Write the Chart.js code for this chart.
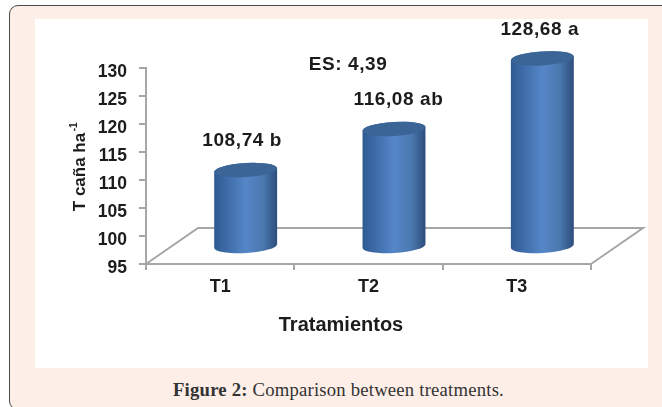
<!DOCTYPE html>
<html>
<head>
<meta charset="utf-8">
<title>Figure 2</title>
<script src="https://cdn.jsdelivr.net/npm/chart.js@4"></script>
<style>
  html, body { margin: 0; padding: 0; width: 662px; height: 407px; overflow: hidden; background: #fff; }
  #marco {
    position: absolute; left: 9px; top: 5px; width: 680px; height: 405px;
    box-sizing: border-box; background: #fdeee7;
    border: 1.5px solid #4a4a4a; border-radius: 9px;
  }
  #cntGrafica { position: absolute; left: 35px; top: 19px; width: 613px; height: 349px; background: #fff; }
  #pie {
    position: absolute; left: 173px; top: 379px;
    font: 18.7px "Liberation Serif", serif; color: #333; letter-spacing: 0.2px; white-space: nowrap;
  }
</style>
</head>
<body>
<div id="marco"></div>
<div id="cntGrafica"><canvas id="grafica" width="613" height="349"></canvas></div>
<div id="pie"><b>Figure 2:</b> Comparison between treatments.</div>
<script>
const categorias = ['T1', 'T2', 'T3'];
const valores = [108.74, 116.08, 128.68];
const etiquetas = ['108,74 b', '116,08 ab', '128,68 a'];
const nota = 'ES: 4,39';
const tituloY = 'T caña ha';
const tituloX = 'Tratamientos';

const FUENTE = '"Liberation Sans", Arial, sans-serif';
const COLOR_TEXTO = '#1c1c1c';
const COLOR_EJE = '#a6a6a6';
const PROF_X = 52, PROF_Y = 36;

function cilindro(ctx, cx, arriba, abajo, r) {
  const ry = 7, giro = -0.06;
  const grad = ctx.createLinearGradient(cx - r, 0, cx + r, 0);
  grad.addColorStop(0, '#2f5a92');
  grad.addColorStop(0.5, '#5586c8');
  grad.addColorStop(0.78, '#4a78ae');
  grad.addColorStop(1, '#2c4d7c');
  ctx.beginPath();
  ctx.ellipse(cx, abajo, r, ry, giro, 0, Math.PI);
  ctx.ellipse(cx, arriba, r, ry, giro, Math.PI, Math.PI * 2);
  ctx.closePath();
  ctx.fillStyle = grad;
  ctx.fill();
  ctx.beginPath();
  ctx.ellipse(cx, arriba, r, ry, giro, 0, Math.PI * 2);
  ctx.fillStyle = '#3b6596';
  ctx.fill();
}

const pluginPiso = {
  id: 'piso',
  beforeDatasetsDraw(chart) {
    const { ctx, chartArea: a } = chart;
    ctx.save();
    ctx.strokeStyle = COLOR_EJE;
    ctx.lineWidth = 2;
    ctx.beginPath();
    ctx.moveTo(a.left, a.bottom);
    ctx.lineTo(a.left + PROF_X, a.bottom - PROF_Y);
    ctx.lineTo(a.right + PROF_X, a.bottom - PROF_Y);
    ctx.lineTo(a.right, a.bottom);
    ctx.stroke();
    ctx.restore();
  }
};

const pluginCilindros = {
  id: 'cilindros',
  beforeDatasetDraw(chart, args) {
    const { ctx } = chart;
    const base = chart.scales.y.getPixelForValue(95) - PROF_Y / 2;
    ctx.save();
    args.meta.data.forEach(function (el) {
      cilindro(ctx, el.x + PROF_X / 2 - 0.5, el.y - PROF_Y / 2 + 1, base, el.width / 2);
    });
    ctx.restore();
    return false;
  }
};

const pluginTextos = {
  id: 'textos',
  afterDraw(chart) {
    const { ctx } = chart;
    const ajusteX = [-3, 5, -2];
    ctx.save();
    ctx.fillStyle = COLOR_TEXTO;
    ctx.textAlign = 'center';
    ctx.textBaseline = 'middle';
    ctx.font = 'bold 19px ' + FUENTE;
    ctx.letterSpacing = '0.6px';
    chart.getDatasetMeta(0).data.forEach(function (el, i) {
      ctx.fillText(etiquetas[i], el.x + PROF_X / 2 - 1 + ajusteX[i], el.y - PROF_Y / 2 - 28);
    });
    ctx.fillText(nota, 313, 46);
    ctx.letterSpacing = '0px';
    ctx.font = 'bold 20px ' + FUENTE;
    ctx.fillText(tituloX, 306, 306);

    ctx.font = 'bold 17px ' + FUENTE;
    ctx.translate(45, 149);
    ctx.rotate(-Math.PI / 2);
    const ancho = ctx.measureText(tituloY).width;
    ctx.fillText(tituloY, -4, 0);
    ctx.font = 'bold 10px ' + FUENTE;
    ctx.fillText('-1', ancho / 2 + 2, -6);
    ctx.restore();
  }
};

new Chart(document.getElementById('grafica').getContext('2d'), {
  type: 'bar',
  data: {
    labels: categorias,
    datasets: [{ data: valores, backgroundColor: '#4f81bd', barPercentage: 0.425, categoryPercentage: 1 }]
  },
  options: {
    responsive: false,
    animation: false,
    events: [],
    layout: { padding: { top: 49, right: 57, left: 0, bottom: 0 } },
    plugins: { legend: { display: false }, title: { display: false }, tooltip: { enabled: false } },
    scales: {
      x: {
        afterFit(scale) { scale.height = 104; },
        border: { color: COLOR_EJE, width: 2 },
        grid: { drawOnChartArea: false, drawTicks: true, tickLength: 6, lineWidth: 2, color: COLOR_EJE, offset: true },
        ticks: { color: COLOR_TEXTO, padding: 6, maxRotation: 0, font: { family: FUENTE, size: 18, weight: 'bold' } }
      },
      y: {
        min: 95,
        max: 130,
        afterFit(scale) { scale.width = 111; },
        border: { color: COLOR_EJE, width: 2 },
        grid: { drawOnChartArea: false, drawTicks: true, tickLength: 7, lineWidth: 2, color: COLOR_EJE },
        ticks: { stepSize: 5, color: COLOR_TEXTO, padding: 12, labelOffset: 4, font: { family: FUENTE, size: 17.5, weight: 'bold' } }
      }
    }
  },
  plugins: [pluginPiso, pluginCilindros, pluginTextos]
});
</script>
</body>
</html>
